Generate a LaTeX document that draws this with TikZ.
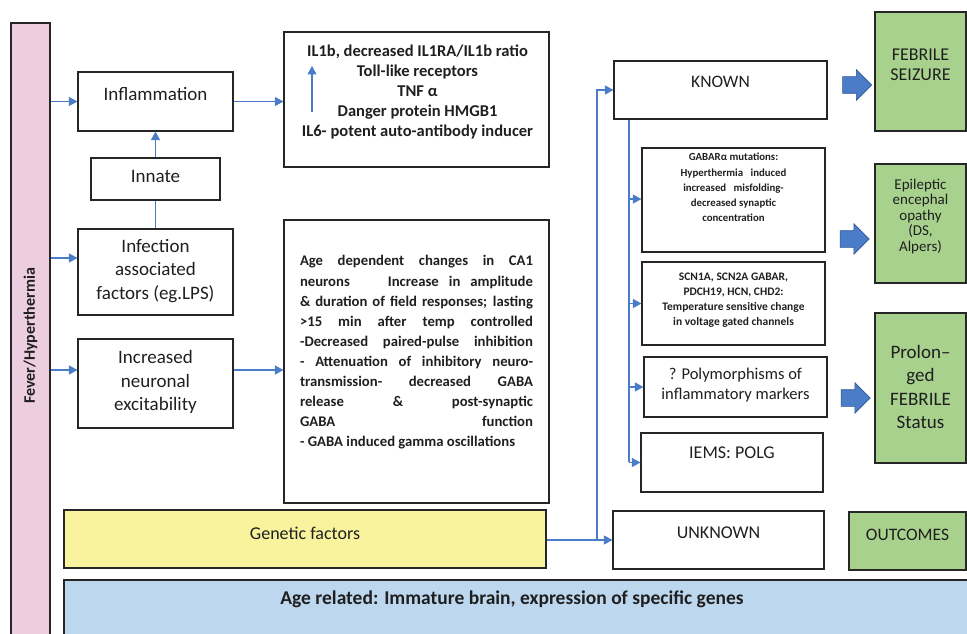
\documentclass[tikz,border=0pt]{standalone}
\usepackage{fontspec}
\setmainfont{Carlito}
\usetikzlibrary{arrows.meta,shapes.arrows}
\definecolor{pinkbar}{HTML}{EDCDE0}
\definecolor{yellowbar}{HTML}{F8F39C}
\definecolor{bluebar}{HTML}{BDD7EE}
\definecolor{greenbox}{HTML}{A9D18E}
\definecolor{connblue}{HTML}{4A7CC7}
\definecolor{fatedge}{HTML}{2F5597}
\definecolor{boxline}{HTML}{262626}
\newcommand{\fsz}[2]{\fontsize{#1}{#2}\selectfont}
\newcommand{\jl}[1]{\makebox[233pt][s]{#1}}
\begin{document}
\begin{tikzpicture}[x=1pt,y=-1pt,
  frame/.style={draw=boxline,line width=1.1pt,inner sep=0pt},
  gframe/.style={frame,fill=greenbox},
  txt/.style={inner sep=0pt,align=center,text=black!88},
  conn/.style={draw=connblue,line width=1.1pt},
  arr/.style={conn,-{Triangle[length=8.5pt,width=9pt]}},
  fat/.style={single arrow,fill=connblue,draw=fatedge,line width=0.6pt,inner xsep=0pt,inner ysep=8pt,minimum height=29pt,single arrow head extend=7pt}
]
\useasboundingbox (0,0) rectangle (967,634);

% bars
\node[frame,fill=pinkbar,minimum width=39pt,minimum height=626pt] (fever) at (30.5,336) {};
\node[txt,rotate=90,font=\bfseries\fsz{16}{20}] (feverT) at (30.5,336) {Fever/Hyperthermia};
\node[frame,fill=bluebar,minimum width=911pt,minimum height=80pt] (agebar) at (519.5,620) {};
\node[txt,font=\bfseries\fsz{19.5}{22}] (agebarT) at (512,599) {Age related: Immature brain, expression of specific genes};
\node[frame,fill=yellowbar,minimum width=482pt,minimum height=58pt] (gen) at (305,539) {};
\node[txt,font=\fsz{18}{20}] (genT) at (305,533) {Genetic factors};

% left column
\node[frame,minimum width=155pt,minimum height=59pt] (infl) at (155.5,101.5) {};
\node[txt,font=\fsz{19}{22}] (inflT) at (155.5,94) {Inflammation};
\node[frame,minimum width=129pt,minimum height=42pt] (innate) at (155.5,179) {};
\node[txt,font=\fsz{19}{22}] (innateT) at (155.5,176) {Innate};
\node[frame,minimum width=155pt,minimum height=86pt] (infect) at (155.5,272) {};
\node[txt,font=\fsz{19}{23.5}] (infectT) at (155.5,271) {Infection\\associated\\factors (eg.LPS)};
\node[frame,minimum width=155pt,minimum height=89pt] (excit) at (155.5,383.5) {};
\node[txt,font=\fsz{19}{23.5}] (excitT) at (155.5,382) {Increased\\neuronal\\excitability};

% middle column
\node[frame,minimum width=265pt,minimum height=135pt] (cyto) at (416.5,99.5) {};
\node[txt,font=\bfseries\fsz{16.5}{20}] (cytoT) at (417.5,92) {IL1b, decreased IL1RA/IL1b ratio\\Toll-like receptors\\TNF α\\Danger protein HMGB1\\IL6- potent auto-antibody inducer};
\node[frame,minimum width=265pt,minimum height=283pt] (cai) at (416.5,361.5) {};
\node[txt,align=left,font=\bfseries\fsz{14.7}{20.1}] (caiT) at (416.5,352.5) {%
\jl{Age dependent changes in CA1}\\
\jl{neurons \hspace{18pt} Increase in amplitude}\\
\jl{\& duration of field responses; lasting}\\
\jl{>15 min after temp controlled}\\
\jl{-Decreased paired-pulse inhibition}\\
\jl{- Attenuation of inhibitory neuro-}\\
\jl{transmission- decreased GABA}\\
\jl{release \& post-synaptic}\\
\jl{GABA function}\\
- GABA induced gamma oscillations};

% right column
\node[frame,minimum width=213pt,minimum height=58pt] (known) at (720.5,90) {};
\node[txt,font=\fsz{17.5}{20}] (knownT) at (720.5,82) {KNOWN};
\node[frame,minimum width=183pt,minimum height=104pt] (gabar) at (733.5,200) {};
\node[txt,font=\bfseries\fsz{10.8}{15.2}] (gabarT) at (733.5,187.5) {GABARα mutations:\\Hyperthermia\hspace{5pt} induced\\increased\hspace{5pt} misfolding-\\decreased synaptic\\concentration};
\node[frame,minimum width=183pt,minimum height=83pt] (scn) at (733.5,303.5) {};
\node[txt,font=\bfseries\fsz{11.5}{15}] (scnT) at (733.5,300.5) {SCN1A, SCN2A GABAR,\\PDCH19, HCN, CHD2:\\Temperature sensitive change\\in voltage gated channels};
\node[frame,minimum width=183pt,minimum height=60pt] (poly) at (735.5,387) {};
\node[txt,font=\fsz{16.5}{20}] (polyT) at (735.5,385) {? Polymorphisms of\\inflammatory markers};
\node[frame,minimum width=182pt,minimum height=59pt] (iems) at (732,462.5) {};
\node[txt,font=\fsz{18}{20}] (iemsT) at (732,453) {IEMS: POLG};
\node[frame,minimum width=211pt,minimum height=58pt] (unk) at (718.5,540) {};
\node[txt,font=\fsz{18}{20}] (unkT) at (718.5,533) {UNKNOWN};

% outcomes
\node[gframe,minimum width=91pt,minimum height=119pt] (feb) at (920.5,71.5) {};
\node[txt,font=\fsz{18}{20}] (febT) at (920.5,65) {FEBRILE\\SEIZURE};
\node[gframe,minimum width=91pt,minimum height=119pt] (epi) at (920.5,223.5) {};
\node[txt,font=\fsz{15}{15.5}] (epiT) at (920.5,216) {Epileptic\\encephal\\opathy\\(DS,\\Alpers)};
\node[gframe,minimum width=91pt,minimum height=150pt] (prol) at (920.5,388) {};
\node[txt,font=\fsz{19}{23.3}] (prolT) at (920.5,387) {Prolon–\\ged\\FEBRILE\\Status};
\node[gframe,minimum width=117pt,minimum height=58pt] (outc) at (907.5,541) {};
\node[txt,font=\fsz{17.5}{20}] (outcT) at (907.5,535) {OUTCOMES};

\node[fat] (fa1) at (853,85) {};
\node[fat] (fa2) at (850.5,239) {};
\node[fat] (fa3) at (851.5,398) {};

% connectors
\draw[arr] (fever.east |- infl.west) -- (infl.west);
\draw[arr] (fever.east |- 0,258) -- (infect.west |- 0,258);
\draw[arr] (fever.east |- 0,370) -- (excit.west |- 0,370);
\draw[conn] (infect.north) -- (innate.south);
\draw[arr] (innate.north) -- (infl.south);
\draw[arr] (infl.east) -- (cyto.west |- infl.east);
\draw[arr] (excit.east |- 0,370) -- (cai.west |- 0,370);
\coordinate (up1) at (312,112);
\coordinate (up2) at (312,66);
\draw[arr] (up1) -- (up2);

\coordinate (j1) at (597,540);
\draw[conn] (gen.east |- j1) -- (j1);
\draw[arr] (j1) |- (known.west);
\draw[arr] (j1) -- (unk.west |- j1);
\coordinate (j2) at (629,462);
\draw[conn] (known.south -| j2) -- (j2);
\draw[arr] (j2 |- 0,199) -- (gabar.west |- 0,199);
\draw[arr] (j2 |- scn.west) -- (scn.west);
\draw[arr] (j2 |- poly.west) -- (poly.west);
\draw[arr] (j2 |- iems.west) -- (iems.west);
\end{tikzpicture}
\end{document}
